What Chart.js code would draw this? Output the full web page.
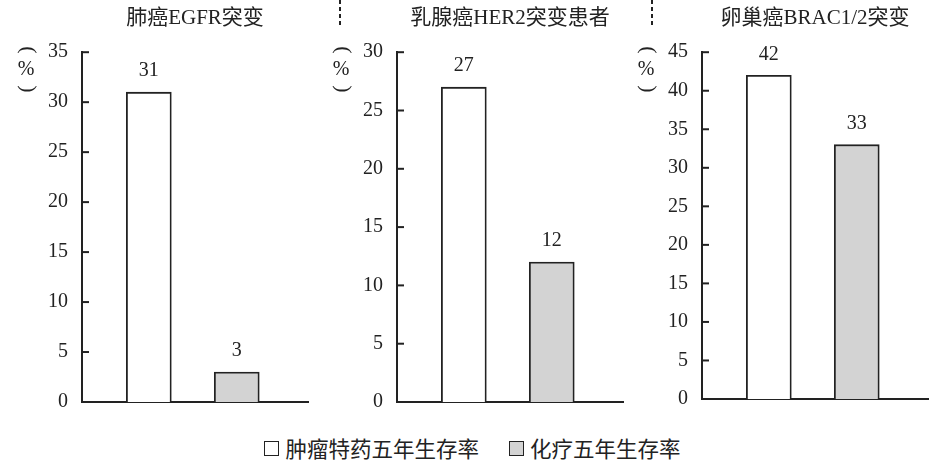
<!DOCTYPE html>
<html>
<head>
<meta charset="utf-8">
<script src="https://cdn.jsdelivr.net/npm/chart.js@4.4.0/dist/chart.umd.min.js"></script>
<style>
  html, body { margin: 0; padding: 0; background: #fff; }
  #page { position: relative; width: 945px; height: 475px; overflow: hidden; }
  .panel { position: absolute; top: 0; }
  .sep { position: absolute; top: 0; width: 2px; height: 26px;
         background: repeating-linear-gradient(to bottom, #222 0 4px, transparent 4px 7px); }
  #legend { position: absolute; left: 0; top: 435px; width: 945px; display: flex;
            justify-content: center; align-items: center;
            font-family: "Noto Sans CJK SC"; font-size: 21.5px; color: #222; line-height: 26px; }
  .item { display: flex; align-items: center; }
  .item + .item { margin-left: 30px; }
  .box { width: 13px; height: 13px; border: 1.5px solid #222; margin-right: 6px; }
</style>
</head>
<body>
<div id="page">
  <canvas id="c0" class="panel"></canvas>
  <canvas id="c1" class="panel"></canvas>
  <canvas id="c2" class="panel"></canvas>
  <div class="sep" style="left:339px"></div>
  <div class="sep" style="left:651px"></div>
  <div id="legend"></div>
</div>
<script>
// --- données ---
const panelTitles = ['肺癌EGFR突变', '乳腺癌HER2突变患者', '卵巢癌BRAC1/2突变'];
const seriesNames = ['肿瘤特药五年生存率', '化疗五年生存率'];
const targetedRates = [31, 27, 42];
const chemoRates = [3, 12, 33];
const yMaxValues = [35, 30, 45];
const yStep = 5;
const yUnit = ['(', '%', ')'];

// --- mise en page ---
const CANVAS_W = 315, AXIS_X = 82, X_AXIS_H = 30;
const panelLeft = [0, 315, 620];
const plotBottom = [402, 402, 399];
const INK = '#222';
const seriesFill = ['#ffffff', '#d3d3d3'];
const serif = '"Liberation Serif", "Noto Sans CJK SC"';

// petits traits de graduation vers l'intérieur
const inwardTicks = {
    id: 'inwardTicks',
    afterDraw(chart) {
        const y = chart.scales.y, ctx = chart.ctx, left = chart.chartArea.left;
        ctx.save();
        ctx.strokeStyle = INK; ctx.lineWidth = 2;
        y.ticks.forEach((t, i) => {
            const py = y.getPixelForTick(i);
            ctx.beginPath(); ctx.moveTo(left, py); ctx.lineTo(left + 7, py); ctx.stroke();
        });
        ctx.restore();
    }
};

// valeurs au-dessus des barres
const valueLabels = {
    id: 'valueLabels',
    afterDatasetsDraw(chart) {
        const ctx = chart.ctx;
        ctx.save();
        ctx.font = '20px ' + serif; ctx.fillStyle = INK;
        ctx.textAlign = 'center'; ctx.textBaseline = 'middle';
        chart.data.datasets.forEach((ds, di) => {
            chart.getDatasetMeta(di).data.forEach((bar, i) => {
                ctx.fillText(ds.data[i].y, bar.x, bar.y - 21);
            });
        });
        ctx.restore();
    }
};

// unité verticale (%) : parenthèses couchées
const unitTitle = {
    id: 'unitTitle',
    afterDraw(chart) {
        const ctx = chart.ctx, x = chart.chartArea.left - 56;
        ctx.save();
        ctx.fillStyle = INK; ctx.textAlign = 'center'; ctx.textBaseline = 'middle';
        ctx.font = '22px "Liberation Serif"';
        [[yUnit[0], 50], [yUnit[2], 89]].forEach(([ch, cy]) => {
            ctx.save();
            ctx.translate(x + 2, cy);
            ctx.rotate(Math.PI / 2);
            ctx.fillText(ch, 0, 0);
            ctx.restore();
        });
        ctx.font = '20px "Liberation Serif"';
        ctx.fillText(yUnit[1], x, 70);
        ctx.restore();
    }
};

panelTitles.forEach((title, i) => {
    const canvas = document.getElementById('c' + i);
    canvas.width = CANVAS_W;
    canvas.height = plotBottom[i] + X_AXIS_H;
    canvas.style.left = panelLeft[i] + 'px';
    new Chart(canvas, {
        type: 'bar',
        data: {
            datasets: [
                { label: seriesNames[0], data: [{ x: 1, y: targetedRates[i] }] },
                { label: seriesNames[1], data: [{ x: 2, y: chemoRates[i] }] }
            ].map((ds, k) => Object.assign(ds, {
                backgroundColor: seriesFill[k], borderColor: INK, borderWidth: 1.8,
                barThickness: 45, grouped: false
            }))
        },
        options: {
            responsive: false, animation: false, events: [],
            layout: { padding: { left: 0, right: 7, top: 0, bottom: 0 } },
            plugins: {
                legend: { display: false },
                tooltip: { enabled: false },
                title: {
                    display: true, text: title, fullSize: false, color: INK,
                    font: { family: serif, size: 21, weight: 'normal' },
                    padding: { top: 6, bottom: 21 }
                }
            },
            scales: {
                x: {
                    type: 'linear', min: 0.24, max: 2.81, offset: false, bounds: 'data',
                    ticks: { display: false },
                    grid: { display: false, drawTicks: false, offset: false },
                    border: { display: true, color: INK, width: 2 },
                    afterFit(s) { s.height = X_AXIS_H; }
                },
                y: {
                    min: 0, max: yMaxValues[i],
                    ticks: { stepSize: yStep, padding: 14, color: INK, font: { family: serif, size: 20 } },
                    grid: { display: false, drawTicks: false },
                    border: { display: true, color: INK, width: 2 },
                    afterFit(s) { s.width = AXIS_X; }
                }
            }
        },
        plugins: [inwardTicks, valueLabels, unitTitle]
    });
});

// Légende
const legend = document.getElementById('legend');
seriesNames.forEach((name, k) => {
    const item = document.createElement('div');
    item.className = 'item';
    item.innerHTML = `<span class="box" style="background:${seriesFill[k]}"></span><span>${name}</span>`;
    legend.appendChild(item);
});
</script>
</body>
</html>
